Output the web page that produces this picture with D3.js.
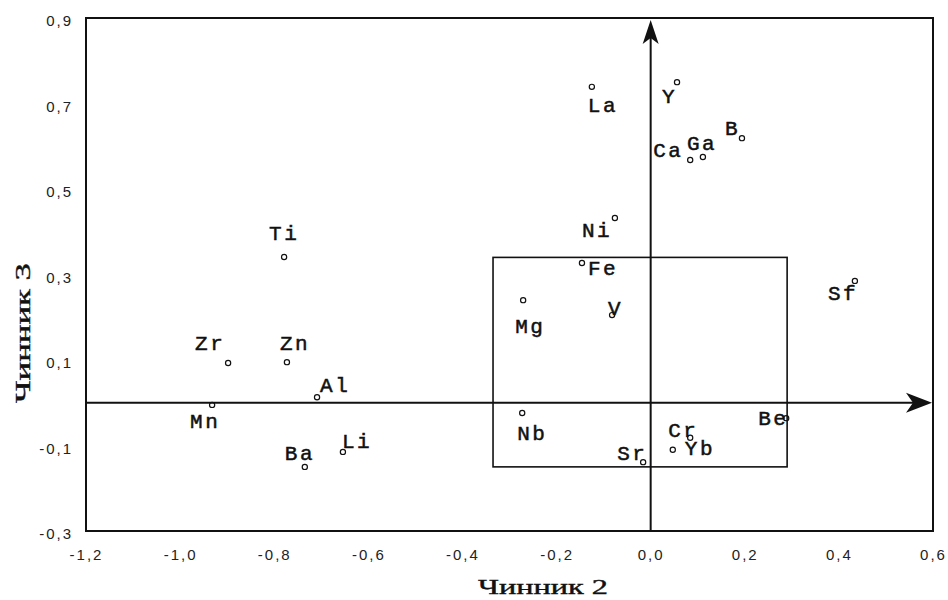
<!DOCTYPE html>
<html>
<head>
<meta charset="utf-8">
<script src="https://cdn.jsdelivr.net/npm/d3@7"></script>
<style>
  body { margin: 0; background: #fff; }
  .tick text { font-family: "Liberation Sans", Arial, sans-serif; font-size: 15px; letter-spacing: 2px; fill: #222; }
  .elem { font-family: "Liberation Mono", "Courier New", monospace; font-size: 21px; letter-spacing: 2.5px; fill: #111; stroke: #111; stroke-width: 0.5px; }
  .title { font-family: "Liberation Serif", serif; font-size: 20px; fill: #111; stroke: #111; stroke-width: 0.4px; }
</style>
</head>
<body>
<svg class="chart"></svg>
<script>
var elements = ['Ti','Zr','Zn','Mn','Ba','Al','Li','Mg','Nb','V','Sr','Fe','Ni','La','Y','Ca','Ga','B','Sf','Be','Cr','Yb'];
var factor2 = [-0.779,-0.898,-0.773,-0.932,-0.735,-0.709,-0.654,-0.271,-0.273,-0.082,-0.016,-0.146,-0.076,-0.125,0.056,0.084,0.111,0.194,0.434,0.288,0.084,0.047];
var factor3 = [0.341,0.093,0.095,-0.005,-0.150,0.013,-0.115,0.240,-0.024,0.205,-0.139,0.327,0.432,0.739,0.750,0.568,0.575,0.619,0.285,-0.036,-0.082,-0.110];
var xTicks = [-1.2,-1.0,-0.8,-0.6,-0.4,-0.2,0.0,0.2,0.4,0.6];
var yTicks = [0.9,0.7,0.5,0.3,0.1,-0.1,-0.3];
var boxX = [-0.335, 0.29];
var boxY = [-0.15, 0.34];

// label placement relative to each marker
var labelOffset = {
  Ti:[-15,-17], Zr:[-33,-13], Zn:[-7,-12], Mn:[-22,23], Ba:[-20,-7], Al:[3,-5], Li:[-1,-4],
  Mg:[-8,33], Nb:[-5,27], V:[-4,0], Sr:[-26,-2], Fe:[6,12], Ni:[-33,19], La:[-4,25],
  Y:[-15,21], Ca:[-37,-3], Ga:[-16,-7], B:[-17,-3], Sf:[-27,19], Be:[-28,7], Cr:[-22,-1], Yb:[12,5]
};

var svg = d3.select('.chart')
            .attr('width', 948)
            .attr('height', 600);

var xScale = d3.scaleLinear().domain([-1.2, 0.6]).range([86, 933]);
var yScale = d3.scaleLinear().domain([-0.3, 0.9]).range([531, 18]);

var loc = d3.formatLocale({decimal: ',', thousands: ' ', grouping: [3], currency: ['', ''], minus: '-'});
var fmt = loc.format('.1f');

var xAxis = d3.axisBottom(xScale).tickValues(xTicks).tickFormat(fmt).tickSize(0).tickPadding(18);
var yAxis = d3.axisLeft(yScale).tickValues(yTicks).tickFormat(fmt).tickSize(0).tickPadding(13);

svg.append('g')
   .attr('transform', 'translate(0,531)')
   .call(xAxis)
   .call(g => g.select('.domain').remove());

svg.append('g')
   .attr('transform', 'translate(86,0)')
   .call(yAxis)
   .call(g => g.select('.domain').remove())
   .selectAll('text').attr('dy', '0.5em');

// frame
svg.append('rect')
   .attr('x', xScale(-1.2))
   .attr('y', yScale(0.9))
   .attr('width', xScale(0.6) - xScale(-1.2))
   .attr('height', yScale(-0.3) - yScale(0.9))
   .attr('fill', 'none')
   .attr('stroke', '#111')
   .attr('stroke-width', 2);

// inner box
svg.append('rect')
   .attr('x', xScale(boxX[0]))
   .attr('y', yScale(boxY[1]))
   .attr('width', xScale(boxX[1]) - xScale(boxX[0]))
   .attr('height', yScale(boxY[0]) - yScale(boxY[1]))
   .attr('fill', 'none')
   .attr('stroke', '#111')
   .attr('stroke-width', 1.6);

// axes through zero with arrows
var x0 = xScale(0), y0 = yScale(0);
svg.append('line')
   .attr('x1', xScale(-1.2)).attr('x2', xScale(0.6) - 8)
   .attr('y1', y0).attr('y2', y0)
   .attr('stroke', '#111').attr('stroke-width', 2);
svg.append('line')
   .attr('x1', x0).attr('x2', x0)
   .attr('y1', yScale(-0.3)).attr('y2', yScale(0.9) + 8)
   .attr('stroke', '#111').attr('stroke-width', 2);

var tx = xScale(0.6) - 1;
svg.append('path')
   .attr('d', 'M' + tx + ',' + y0 + 'L' + (tx - 26) + ',' + (y0 - 10) + 'L' + (tx - 19) + ',' + y0 + 'L' + (tx - 26) + ',' + (y0 + 10) + 'Z')
   .attr('fill', '#111');
var ty = yScale(0.9) + 2;
svg.append('path')
   .attr('d', 'M' + x0 + ',' + ty + 'L' + (x0 - 8) + ',' + (ty + 24) + 'L' + x0 + ',' + (ty + 18) + 'L' + (x0 + 8) + ',' + (ty + 24) + 'Z')
   .attr('fill', '#111');

// points
svg.selectAll('circle.pt').data(elements)
   .enter()
   .append('circle')
   .attr('class', 'pt')
   .attr('cx', (d, i) => xScale(factor2[i]))
   .attr('cy', (d, i) => yScale(factor3[i]))
   .attr('r', 2.6)
   .attr('fill', 'none')
   .attr('stroke', '#111')
   .attr('stroke-width', 1.2);

svg.selectAll('text.elem').data(elements)
   .enter()
   .append('text')
   .attr('class', 'elem')
   .attr('x', (d, i) => xScale(factor2[i]) + labelOffset[d][0])
   .attr('y', (d, i) => yScale(factor3[i]) + labelOffset[d][1])
   .text(d => d);

svg.append('text')
   .attr('class', 'title')
   .attr('x', 478)
   .attr('y', 594)
   .attr('textLength', 130)
   .attr('lengthAdjust', 'spacingAndGlyphs')
   .text('Чинник 2');

svg.append('text')
   .attr('class', 'title')
   .attr('transform', 'translate(30,403) rotate(-90)')
   .attr('textLength', 140)
   .attr('lengthAdjust', 'spacingAndGlyphs')
   .text('Чинник 3');
</script>
</body>
</html>
